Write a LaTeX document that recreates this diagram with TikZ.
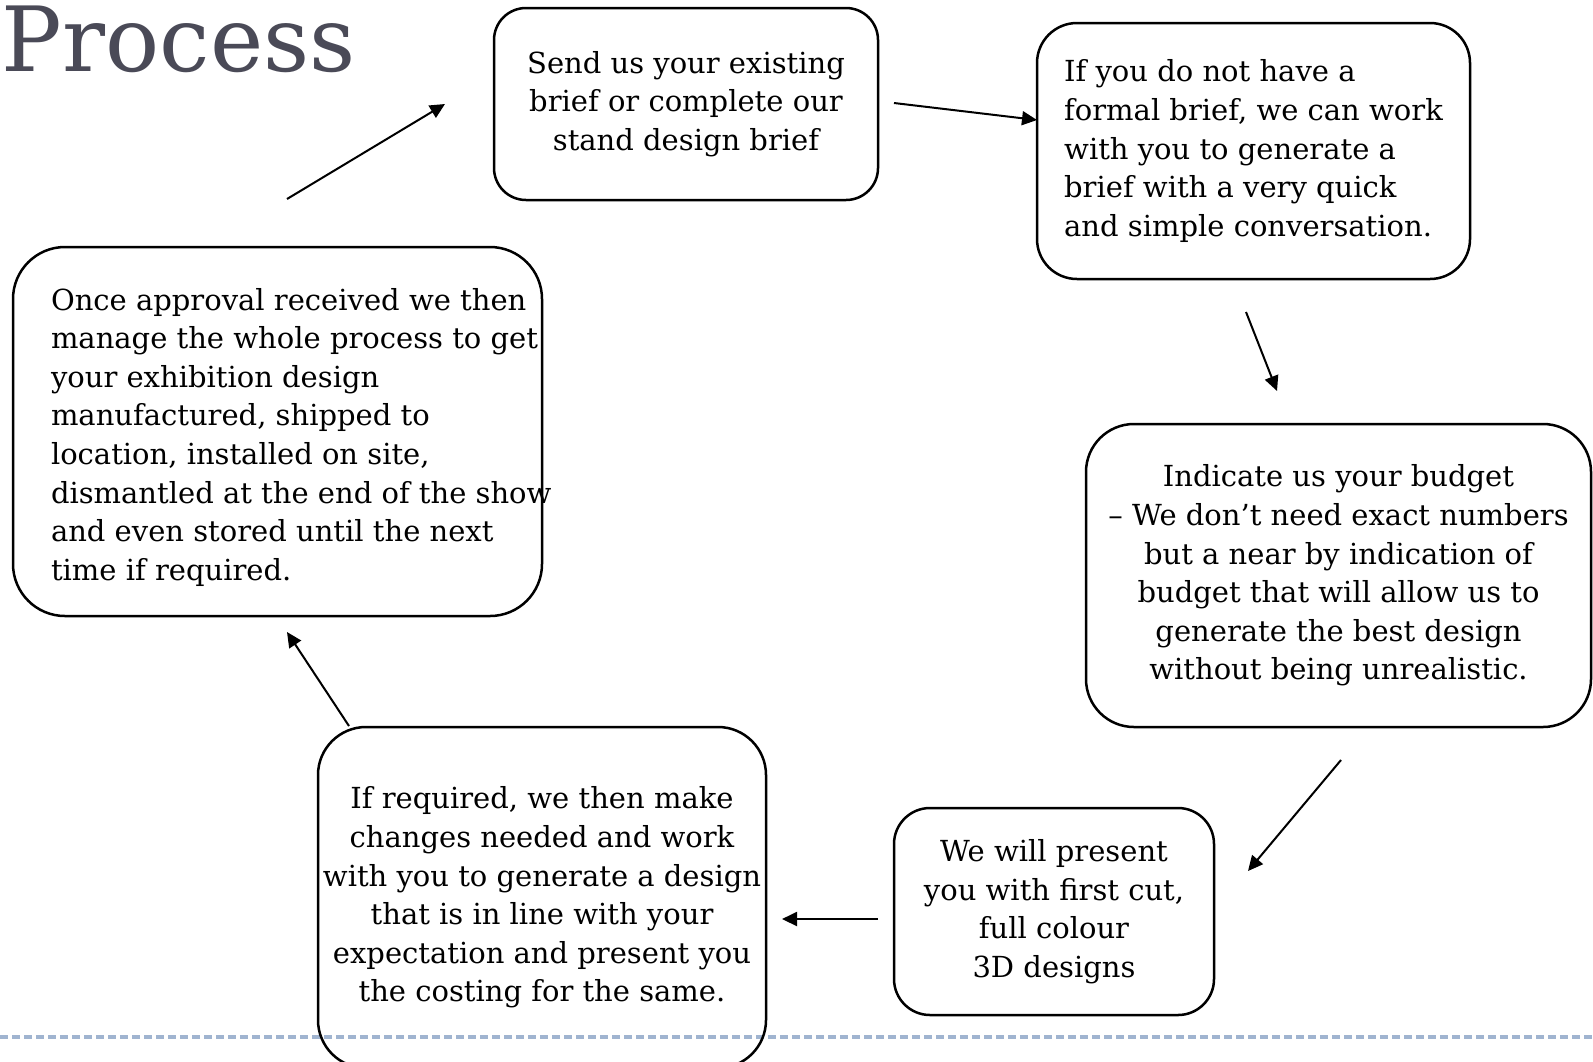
\documentclass[tikz,border=0pt]{standalone}
\usepackage{fontspec}
\setmainfont{DejaVu Serif}
\usetikzlibrary{arrows.meta}

\definecolor{titlegray}{RGB}{74,74,87}
\definecolor{rulegray}{RGB}{160,180,208}

\begin{document}
\begin{tikzpicture}[x=0.5pt, y=-0.5pt, line width=1pt,
   step box/.style={draw, line width=1.25pt, rounded corners=20pt, inner sep=0pt, font=\fontsize{14.5}{19.3}\selectfont},
   step text/.style={inner sep=0pt, font=\fontsize{14.5}{19.3}\selectfont},
   flow/.style={-{Triangle[length=7.5pt,width=7pt]}}]
   \useasboundingbox (0,0) rectangle (1593,1061);

   % page rule and title
   \coordinate (rule left) at (0,1037);
   \coordinate (rule right) at (1593,1037);
   \draw[rulegray, line width=1.6pt, dash pattern=on 3.8pt off 2.2pt] (rule left) -- (rule right);
   \node[anchor=base west, inner sep=0pt, text=titlegray, font=\fontsize{45}{45}\selectfont] (title) at (1,71) {Process};

   % the six steps
   \node[step box, minimum width=192pt, minimum height=96pt, rounded corners=16pt, align=center] (1) at (686,104)
      {Send us your existing\\ brief or complete our\\ stand design brief};
   \node[step box, minimum width=216.5pt, minimum height=128pt, align=left] (2) at (1253.5,151)
      {If you do not have a\\ formal brief, we can work\\ with you to generate a\\ brief with a very quick\\ and simple conversation.};
   \node[step box, minimum width=252.5pt, minimum height=151.5pt, rounded corners=24pt, align=center] (3) at (1338.5,575.5)
      {Indicate us your budget\\ – We don’t need exact numbers\\ but a near by indication of\\ budget that will allow us to\\ generate the best design\\ without being unrealistic.};
   \node[step box, minimum width=160pt, minimum height=103.5pt, rounded corners=18pt, align=center] (4) at (1054,911.5)
      {We will present\\ you with first cut,\\ full colour\\ 3D designs};
   \node[step box, minimum width=224pt, minimum height=170.5pt, rounded corners=24pt, align=center] (5) at (542,897.5)
      {If required, we then make\\ changes needed and work\\ with you to generate a design\\ that is in line with your\\ expectation and present you\\ the costing for the same.};
   \node[step box, minimum width=264.5pt, minimum height=184.5pt, rounded corners=26pt] (6) at (277.5,431.5) {};
   \node[step text, anchor=north west, align=left] (6 text) at (50,287)
      {Once approval received we then\\ manage the whole process to get\\ your exhibition design\\ manufactured, shipped to\\ location, installed on site,\\ dismantled at the end of the show\\ and even stored until the next\\ time if required.};

   % arrows between the steps
   \coordinate (6 out) at (287,199);  \coordinate (1 in) at (445,104);
   \coordinate (1 out) at (894,103);  \coordinate (2 in) at (1037,120);
   \coordinate (2 out) at (1246,312); \coordinate (3 in) at (1277,391);
   \coordinate (3 out) at (1341,760); \coordinate (4 in) at (1248,871);
   \coordinate (4 out) at (878,919);  \coordinate (5 in) at (782,919);
   \coordinate (5 out) at (349,726);  \coordinate (6 in) at (287,632);
   \draw[flow] (6 out) -- (1 in);
   \draw[flow] (1 out) -- (2 in);
   \draw[flow] (2 out) -- (3 in);
   \draw[flow] (3 out) -- (4 in);
   \draw[flow] (4 out) -- (5 in);
   \draw[flow] (5 out) -- (6 in);
\end{tikzpicture}
\end{document}
